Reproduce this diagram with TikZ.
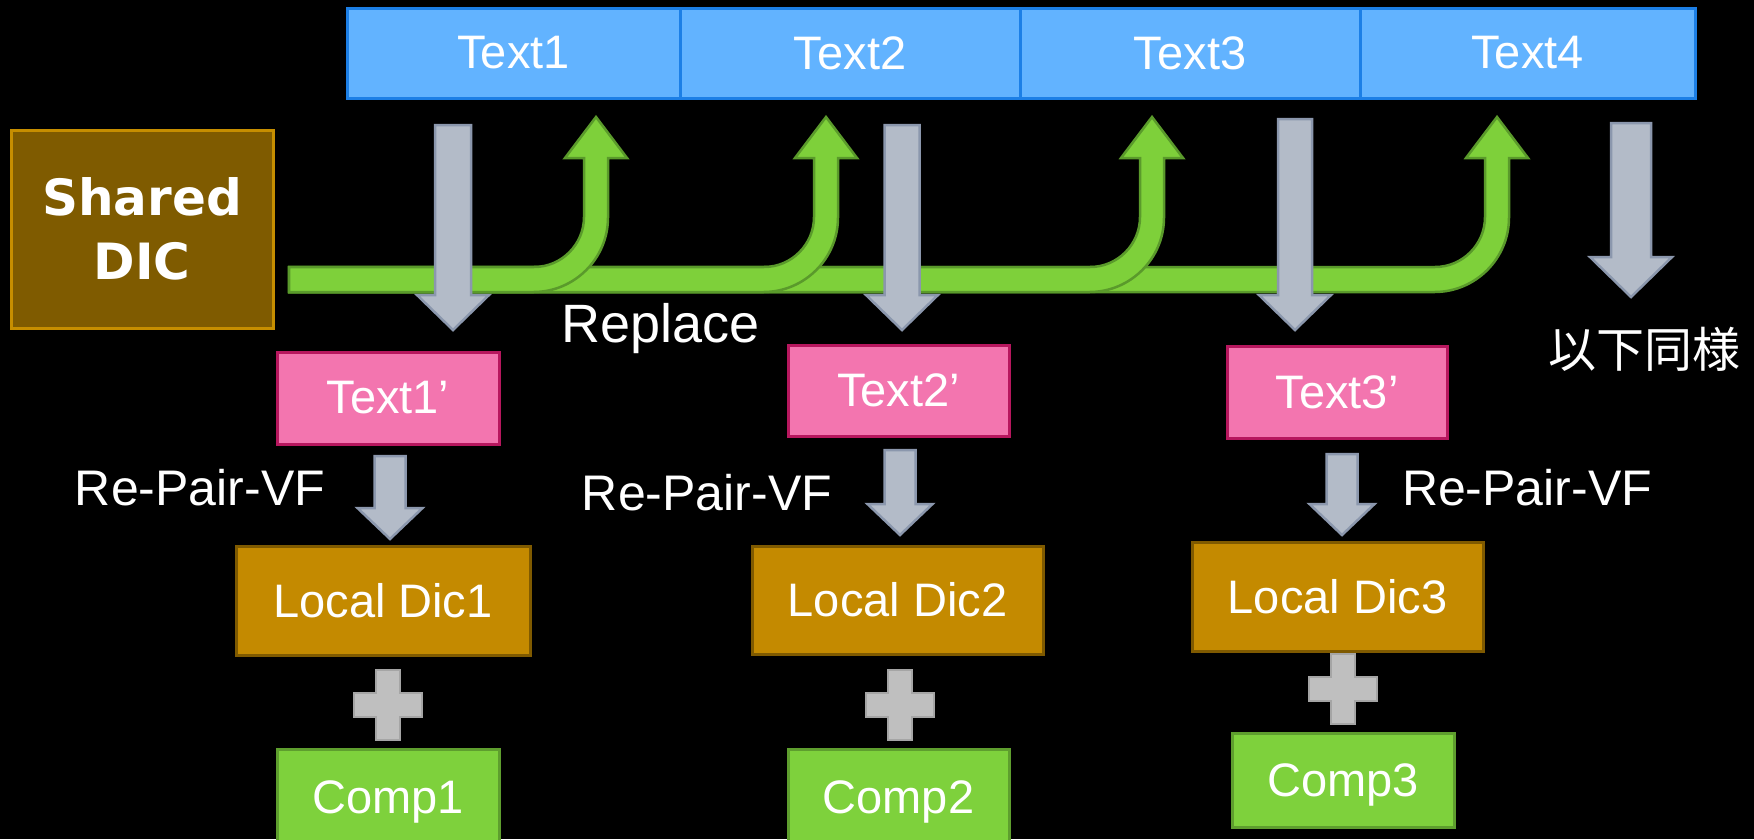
\documentclass[tikz,border=0pt]{standalone}
\usepackage{fontspec}
\setmainfont{Liberation Sans}
\newfontfamily\dejab{DejaVu Sans}
\newfontfamily\cjk{Noto Sans CJK JP}
\usetikzlibrary{calc}
\definecolor{topfill}{HTML}{62B3FF}
\definecolor{topdraw}{HTML}{1C7FE6}
\definecolor{sharedfill}{HTML}{7F5B00}
\definecolor{shareddraw}{HTML}{C68E00}
\definecolor{pinkfill}{HTML}{F375AF}
\definecolor{pinkdraw}{HTML}{B7175E}
\definecolor{localfill}{HTML}{C48A00}
\definecolor{localdraw}{HTML}{7F5A00}
\definecolor{compfill}{HTML}{7ED13C}
\definecolor{compdraw}{HTML}{5E9E2E}
\definecolor{greenfill}{HTML}{7ED03A}
\definecolor{greendraw}{HTML}{5A9A2B}
\definecolor{greyfill}{HTML}{B3BBC8}
\definecolor{greydraw}{HTML}{8B97AD}
\definecolor{plusfill}{HTML}{BFBFBF}
\definecolor{plusdraw}{HTML}{A5A5A5}
\tikzset{
  box/.style={rectangle, inner sep=0pt, line width=3pt, text=white, font=\fontsize{47}{50}\selectfont},
  topbox/.style={box, fill=topfill, draw=topdraw, minimum height=90pt},
  pinkbox/.style={box, fill=pinkfill, draw=pinkdraw},
  localbox/.style={box, fill=localfill, draw=localdraw},
  compbox/.style={box, fill=compfill, draw=compdraw},
  greyarr/.style={fill=greyfill, draw=greydraw, line width=2.5pt, line join=miter},
  greenarr/.style={fill=greenfill, draw=greendraw, line width=2.5pt, line join=miter},
  plusst/.style={fill=plusfill, draw=plusdraw, line width=2.5pt},
  lbl/.style={text=white, inner sep=0pt}
}
\newcommand\blkdown[5]{%
  \filldraw[greyarr] let \p1=(#1), \p2=(#2) in
  (\x1-#3,\y1) -- (\x1+#3,\y1) -- (\x1+#3,\y2+#5) -- (\x1+#4,\y2+#5) -- (\x1,\y2)
  -- (\x1-#4,\y2+#5) -- (\x1-#3,\y2+#5) -- cycle;}
\newcommand\plusat[1]{%
  \filldraw[plusst] let \p1=(#1) in
  (\x1-12pt,\y1+35pt) -- (\x1+12pt,\y1+35pt) -- (\x1+12pt,\y1+12pt) -- (\x1+34pt,\y1+12pt)
  -- (\x1+34pt,\y1-12pt) -- (\x1+12pt,\y1-12pt) -- (\x1+12pt,\y1-35pt) -- (\x1-12pt,\y1-35pt)
  -- (\x1-12pt,\y1-12pt) -- (\x1-34pt,\y1-12pt) -- (\x1-34pt,\y1+12pt) -- (\x1-12pt,\y1+12pt) -- cycle;}
\newcommand\bentarrow[1]{%
  \filldraw[greenarr] (289,292) -- (289,267) -- ({#1-62},267)
  .. controls ({#1-34.4},267) and ({#1-12},244.4) .. ({#1-12},217)
  -- ({#1-12},158) -- ({#1-31},158) -- (#1,117) -- ({#1+31},158) -- ({#1+12},158)
  -- ({#1+12},217.5) .. controls ({#1+12},258.6) and ({#1-21.5},292) .. ({#1-62.5},292) -- cycle;}
\begin{document}
\begin{tikzpicture}[x=1pt,y=-1pt]
\useasboundingbox (0,0) rectangle (1754,839);
\fill[black] (0,0) rectangle (1754,839);
\clip (0,0) rectangle (1754,839);

% top texts
\node[topbox, minimum width=333pt] (t1) at (513.5,53) {Text1};
\node[topbox, minimum width=340pt] (t2) at (850,53) {Text2};
\node[topbox, minimum width=340pt] (t3) at (1190,53) {Text3};
\node[topbox, minimum width=335pt] (t4) at (1527.5,53) {Text4};

% shared dic
\node[box, fill=sharedfill, draw=shareddraw, minimum width=262pt, minimum height=198pt,
      align=center, font=\dejab\bfseries\fontsize{50}{64}\selectfont] (sd) at (142,229) {Shared\\DIC};

% green replace arrows (longest first)
\bentarrow{1497}
\bentarrow{1152}
\bentarrow{826}
\bentarrow{596}

% pink boxes
\node[pinkbox, minimum width=222pt, minimum height=92pt] (p1) at (388,398) {Text1’};
\node[pinkbox, minimum width=221pt, minimum height=91pt] (p2) at (898.5,390.5) {Text2’};
\node[pinkbox, minimum width=220pt, minimum height=92pt] (p3) at (1337,392) {Text3’};

% local dics
\node[localbox, minimum width=294pt, minimum height=109pt] (l1) at (383,600.5) {Local Dic1};
\node[localbox, minimum width=291pt, minimum height=108pt] (l2) at (897.5,600) {Local Dic2};
\node[localbox, minimum width=291pt, minimum height=109pt] (l3) at (1337.5,596.5) {Local Dic3};

% comps
\node[compbox, minimum width=222pt, minimum height=96pt, text depth=0pt] (c1) at (388,797) {Comp1};
\node[compbox, minimum width=221pt, minimum height=96pt, text depth=0pt] (c2) at (898.5,797) {Comp2};
\node[compbox, minimum width=222pt, minimum height=94pt, text depth=0pt] (c3) at (1343,780) {Comp3};

% big grey down arrows
\coordinate (b1s) at (453,125); \coordinate (b1e) at (453,330);
\coordinate (b2s) at (902,125); \coordinate (b2e) at (902,330);
\coordinate (b3s) at (1295,119); \coordinate (b3e) at (1295,330);
\coordinate (b4s) at (1631,123); \coordinate (b4e) at (1631,297);
\blkdown{b1s}{b1e}{18pt}{36pt}{35pt}
\blkdown{b2s}{b2e}{17.5pt}{36pt}{35pt}
\blkdown{b3s}{b3e}{17pt}{36pt}{35pt}
\blkdown{b4s}{b4e}{20pt}{41pt}{40pt}

% small grey arrows (Re-Pair-VF)
\coordinate (r1s) at (390,456); \coordinate (r1e) at (390,539);
\coordinate (r2s) at (900,450); \coordinate (r2e) at (900,535);
\coordinate (r3s) at (1342,454); \coordinate (r3e) at (1342,535);
\blkdown{r1s}{r1e}{15.5pt}{32.5pt}{31pt}
\blkdown{r2s}{r2e}{15.5pt}{32.5pt}{31pt}
\blkdown{r3s}{r3e}{15.5pt}{32.5pt}{31pt}

% plus signs
\coordinate (x1) at (388,705);
\coordinate (x2) at (900,705);
\coordinate (x3) at (1343,689);
\plusat{x1}
\plusat{x2}
\plusat{x3}

% labels
\node[lbl, font=\fontsize{54}{60}\selectfont] (rep) at (661,329) {Replace};
\node[lbl, font=\cjk\fontsize{48}{54}\selectfont] (etc) at (1644,349) {以下同様};
\node[lbl, font=\fontsize{50}{56}\selectfont] (rv1) at (200,488) {Re-Pair-VF};
\node[lbl, font=\fontsize{50}{56}\selectfont] (rv2) at (707,493) {Re-Pair-VF};
\node[lbl, font=\fontsize{50}{56}\selectfont] (rv3) at (1527,488) {Re-Pair-VF};
\end{tikzpicture}
\end{document}
